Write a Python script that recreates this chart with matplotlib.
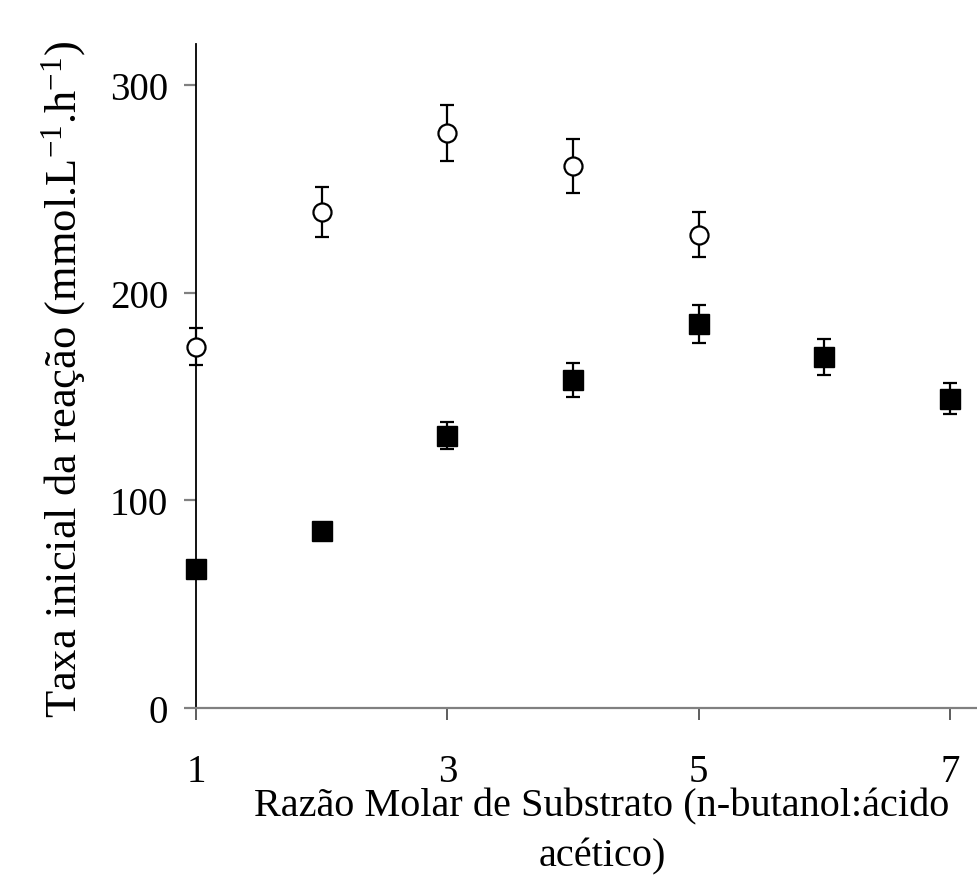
import matplotlib
import matplotlib.pyplot as plt
import numpy as np

matplotlib.use("Agg")

# initial reaction rate vs. molar ratio of substrates
ratio_open = [1, 2, 3, 4, 5]
rate_open = [174, 239, 277, 261, 228]
err_open = [9, 12, 13.5, 13, 11]

ratio_filled = [1, 2, 3, 4, 5, 6, 7]
rate_filled = [67, 85, 131, 158, 185, 169, 149]
err_filled = [3, 3, 6.5, 8, 9, 8.5, 7.5]

x_ticks = [1, 3, 5, 7]
y_ticks = [0, 100, 200, 300]

plt.rcParams["font.family"] = ["Liberation Serif", "DejaVu Serif"]
plt.rcParams["mathtext.fontset"] = "custom"
plt.rcParams["mathtext.rm"] = "Liberation Serif"
plt.rcParams["mathtext.it"] = "Liberation Serif:italic"

fig = plt.figure(figsize=(9.77, 8.79), dpi=100)
ax = fig.add_axes([196 / 977, 1 - 709 / 879, 1 - 196 / 977, (709 - 44.5) / 879])

common = dict(color="black", ecolor="black", elinewidth=1.6, capsize=5,
              capthick=1.6, linestyle="none", zorder=3, clip_on=False)
ax.errorbar(ratio_open, rate_open, yerr=err_open, marker="o", markersize=13,
            markerfacecolor="white", markeredgecolor="black", markeredgewidth=1.6,
            **common)
ax.errorbar(ratio_filled, rate_filled, yerr=err_filled, marker="s", markersize=14,
            markerfacecolor="black", markeredgecolor="black", **common)

ax.set_xlim(1, 7 + 27 / 125.7)
ax.set_ylim(0, 320)
ax.set_xticks(x_ticks)
ax.set_yticks(y_ticks)

for side in ("top", "right"):
    ax.spines[side].set_visible(False)
ax.spines["left"].set_color("black")
ax.spines["left"].set_linewidth(1.3)
ax.spines["bottom"].set_color("#808080")
ax.spines["bottom"].set_linewidth(1.6)

ax.tick_params(axis="x", direction="out", length=8.6, width=1.3, color="#505050",
               labelsize=28, pad=24)
ax.tick_params(axis="y", direction="out", length=8.6, width=1.6, color="#808080",
               labelsize=28, pad=11.5)

ax.set_xlabel("Razão Molar de Substrato (n-butanol:ácido\nacético)",
              fontsize=29, linespacing=1.48, va="top")
ax.xaxis.set_label_coords((602 - 196) / 781, (709 - 788) / 664.5)
ax.set_ylabel("Taxa inicial da reação (mmol.L$^{-1}$.h$^{-1}$)", fontsize=32)
ax.yaxis.set_label_coords((88 - 196) / 781, (709 - 380) / 664.5)

fig.savefig("out.png", dpi=100)
